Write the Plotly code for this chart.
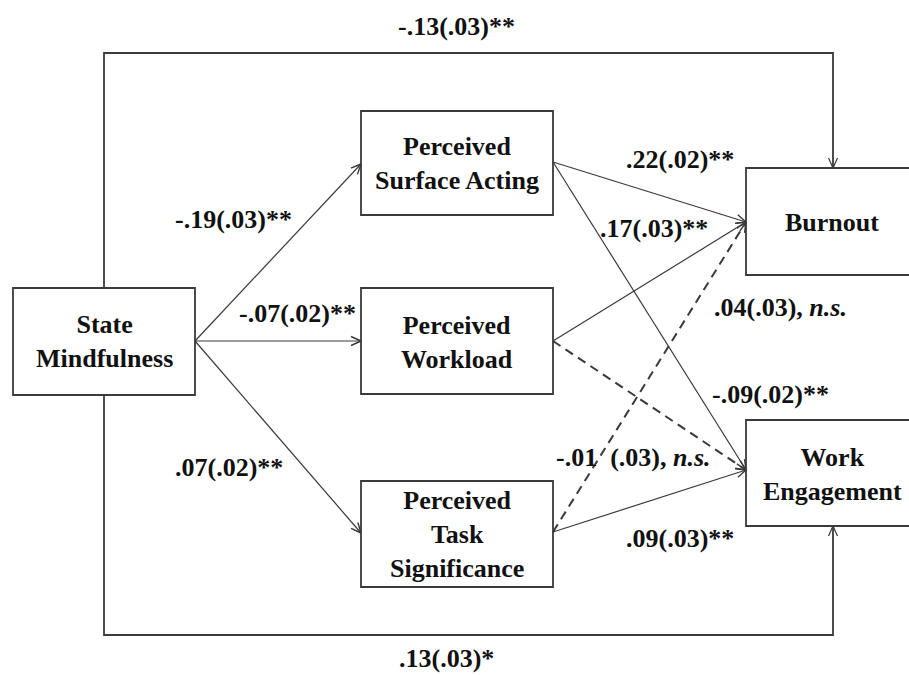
import numpy as np
import plotly.graph_objects as go

# ---------------- data ----------------
node_names = ["SM", "PSA", "PW", "PTS", "BO", "WE"]
node_labels = ["State<br>Mindfulness", "Perceived<br>Surface Acting", "Perceived<br>Workload",
               "Perceived<br>Task<br>Significance", "Burnout", "Work<br>Engagement"]

edge_sources = ["SM", "SM", "SM", "PSA", "PSA", "PW", "PW", "PTS", "PTS", "SM", "SM"]
edge_targets = ["PSA", "PW", "PTS", "BO", "WE", "BO", "WE", "BO", "WE", "BO", "WE"]
edge_coefs = ["-.19(.03)**", "-.07(.02)**", ".07(.02)**", ".22(.02)**", "-.09(.02)**",
              ".17(.03)**", ".04(.03), <i>n.s.</i>", "-.01&nbsp;&nbsp;(.03), <i>n.s.</i>",
              ".09(.03)**", "-.13(.03)**", ".13(.03)*"]
edge_significant = [True, True, True, True, True, True, False, False, True, True, True]

# ---------------- layout (pixel geometry) ----------------
W, H = 909, 675
boxes = {  # x0, y0, x1, y1
    "SM": (13, 288, 195, 395),
    "PSA": (361, 111, 553, 215),
    "PW": (361, 288, 553, 394),
    "PTS": (361, 481, 553, 587),
    "BO": (746, 168, 920, 275),
    "WE": (746, 420, 920, 526),
}
text_center = {"SM": (104, 341), "PSA": (457, 163), "PW": (457, 342),
               "PTS": (457, 534), "BO": (832, 222), "WE": (832, 474)}
out_pt = {"SM": (195, 341), "PSA": (553, 162), "PW": (553, 341), "PTS": (553, 532)}
in_pt = {"PSA": (361, 164), "PW": (361, 341), "PTS": (361, 533), "BO": (746, 222), "WE": (746, 470)}
label_pos = [(233, 219), (297, 313), (229, 467), (680, 159), (770, 394), (654, 228),
             (780, 307), (633, 457), (680, 538), (456, 26), (446, 658)]

LINE = "#3a3a3a"
FONT = "Liberation Serif"
FS = 26

fig = go.Figure()


def arrowhead(tip, frm, L=10, Wd=4.5):
    tip = np.array(tip, float)
    frm = np.array(frm, float)
    u = (tip - frm) / np.linalg.norm(tip - frm)
    n = np.array([-u[1], u[0]])
    a = tip - L * u + Wd * n
    b = tip - L * u - Wd * n
    return [a[0], tip[0], b[0]], [a[1], tip[1], b[1]]


def add_line(xs, ys, dash="solid", width=1.3):
    fig.add_trace(go.Scatter(x=xs, y=ys, mode="lines", hoverinfo="skip", showlegend=False,
                             line=dict(color=LINE, width=width, dash=dash)))


for s, t, sig in zip(edge_sources, edge_targets, edge_significant):
    if s == "SM" and t in ("BO", "WE"):
        # direct paths routed around the diagram
        ytop = 53 if t == "BO" else 635
        ybox = boxes["SM"][1] if t == "BO" else boxes["SM"][3]
        yend = boxes[t][1] if t == "BO" else boxes[t][3]
        xs = [104, 104, 833, 833]
        ys = [ybox, ytop, ytop, yend]
        add_line(xs, ys, width=1.8)
        hx, hy = arrowhead((833, yend), (833, ytop))
        add_line(hx, hy, width=1.2)
        continue
    p0 = out_pt[s]
    p1 = in_pt[t]
    add_line([p0[0], p1[0]], [p0[1], p1[1]],
             dash="solid" if sig else "9px,6px", width=1.2 if sig else 2.0)
    hx, hy = arrowhead(p1, p0)
    add_line(hx, hy, width=1.4)

shapes = []
for name in node_names:
    x0, y0, x1, y1 = boxes[name]
    shapes.append(dict(type="rect", xref="x", yref="y", x0=x0, y0=y0, x1=x1, y1=y1,
                       line=dict(color=LINE, width=1.8), fillcolor="rgba(0,0,0,0)"))

annotations = []
for name, lab in zip(node_names, node_labels):
    cx, cy = text_center[name]
    annotations.append(dict(x=cx, y=cy, xref="x", yref="y", text="<b>" + lab + "</b>",
                            showarrow=False, font=dict(family=FONT, size=FS, color="#111")))
for txt, (lx, ly) in zip(edge_coefs, label_pos):
    annotations.append(dict(x=lx, y=ly, xref="x", yref="y", text="<b>" + txt + "</b>",
                            showarrow=False, font=dict(family=FONT, size=FS, color="#111")))

fig.update_layout(
    width=W, height=H, margin=dict(l=0, r=0, t=0, b=0),
    paper_bgcolor="white", plot_bgcolor="white",
    font=dict(family=FONT),
    xaxis=dict(range=[0, W], visible=False, fixedrange=True),
    yaxis=dict(range=[H, 0], visible=False, fixedrange=True),
    shapes=shapes, annotations=annotations, showlegend=False,
)

fig.write_html("out.html", config={"displayModeBar": False},
               post_script="document.body.style.margin='0';document.body.style.overflow='hidden';")
